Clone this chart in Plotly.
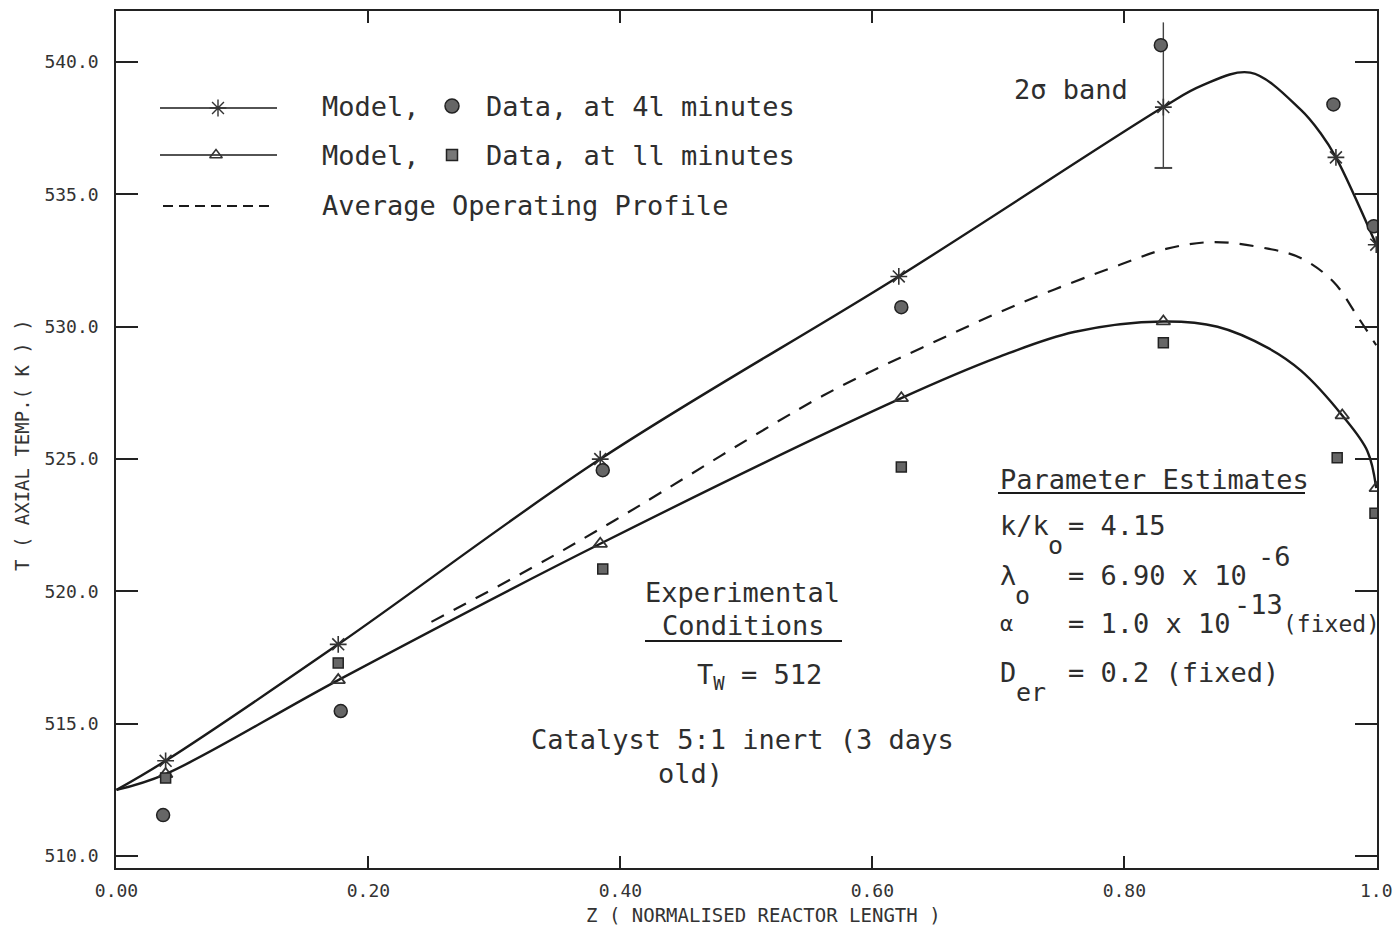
import plotly.graph_objects as go

# ---------------- data ----------------
# Model curve at 41 minutes (upper solid line)
model41_curve_z = [0.000, 0.039, 0.176, 0.384, 0.621, 0.831, 0.861, 0.900, 0.940, 0.956, 0.968, 1.000]
model41_curve_T = [512.5, 513.6, 518.0, 525.0, 531.9, 538.3, 539.1, 539.6, 538.2, 537.3, 536.4, 533.1]
model41_mark_z = [0.039, 0.176, 0.384, 0.621, 0.831, 0.968, 1.000]
model41_mark_T = [513.6, 518.0, 525.0, 531.9, 538.3, 536.4, 533.1]

# Model curve at 11 minutes (lower solid line)
model11_curve_z = [0.000, 0.039, 0.176, 0.384, 0.623, 0.700, 0.760, 0.831,
                   0.874, 0.914, 0.940, 0.973, 0.993, 1.000]
model11_curve_T = [512.5, 513.1, 516.65, 521.8, 527.3, 528.85, 529.8, 530.2,
                   530.0, 529.2, 528.35, 526.65, 525.3, 523.9]
model11_mark_z = [0.039, 0.176, 0.384, 0.623, 0.831, 0.973, 1.000]
model11_mark_T = [513.1, 516.65, 521.8, 527.3, 530.2, 526.65, 523.9]

# Average operating profile (dashed)
avg_z = [0.250, 0.330, 0.396, 0.561, 0.639, 0.718, 0.797, 0.834, 0.871, 0.914,
         0.940, 0.966, 0.985, 1.000]
avg_T = [518.85, 520.9, 522.7, 527.4, 529.2, 530.9, 532.35, 532.95, 533.2, 532.95,
         532.6, 531.7, 530.4, 529.3]

# Measured data
data41_z = [0.037, 0.178, 0.386, 0.623, 0.829, 0.966, 0.998]
data41_T = [511.55, 515.48, 524.58, 530.74, 540.64, 538.4, 533.8]
data11_z = [0.039, 0.176, 0.386, 0.623, 0.831, 0.969, 0.999]
data11_T = [512.95, 517.3, 520.85, 524.7, 529.4, 525.05, 522.95]

# 2-sigma band at z = 0.831
band_z = [0.831, 0.831]
band_T = [536.0, 541.5]
band_cap_z = [0.824, 0.838]
band_cap_T = [536.0, 536.0]

x_tickvals = [0.0, 0.2, 0.4, 0.6, 0.8, 1.0]
x_ticktext = ["0.00", "0.20", "0.40", "0.60", "0.80", "1.0"]
y_tickvals = [510, 515, 520, 525, 530, 535, 540]
y_ticktext = ["510.0", "515.0", "520.0", "525.0", "530.0", "535.0", "540.0"]

# ---------------- figure ----------------
W, H = 1393, 929
L, R, T, B = 116, 16, 11, 61
PW, PH = W - L - R, H - T - B

def px(xp):
    return (xp - L) / PW

def py(yp):
    return (T + PH - yp) / PH

INK = "#1a1a1a"
MK = "#333333"
MONO = "DejaVu Sans Mono"
SM = 1.0

fig = go.Figure()

fig.add_trace(go.Scatter(x=model41_curve_z, y=model41_curve_T, mode="lines",
                         line=dict(color=INK, width=2.4, shape="spline", smoothing=SM),
                         showlegend=False, hoverinfo="skip"))
fig.add_trace(go.Scatter(x=model11_curve_z, y=model11_curve_T, mode="lines",
                         line=dict(color=INK, width=2.4, shape="spline", smoothing=SM),
                         showlegend=False, hoverinfo="skip"))
fig.add_trace(go.Scatter(x=avg_z, y=avg_T, mode="lines",
                         line=dict(color=INK, width=2.2, dash="14px,11px", shape="spline", smoothing=SM),
                         showlegend=False, hoverinfo="skip"))

fig.add_trace(go.Scatter(x=band_z, y=band_T, mode="lines",
                         line=dict(color="#444", width=1.4), showlegend=False))
fig.add_trace(go.Scatter(x=band_cap_z, y=band_cap_T, mode="lines",
                         line=dict(color="#444", width=2), showlegend=False))

fig.add_trace(go.Scatter(x=model41_mark_z, y=model41_mark_T, mode="markers",
                         marker=dict(symbol="asterisk-open", size=14, color=MK, line=dict(color=MK, width=1.6)),
                         showlegend=False))
fig.add_trace(go.Scatter(x=model11_mark_z, y=model11_mark_T, mode="markers",
                         marker=dict(symbol="triangle-up-open", size=12, color=MK, line=dict(color=MK, width=1.8)),
                         showlegend=False))
fig.add_trace(go.Scatter(x=data41_z, y=data41_T, mode="markers",
                         marker=dict(symbol="circle", size=13, color="#666", line=dict(color="#222", width=1.5)),
                         showlegend=False))
fig.add_trace(go.Scatter(x=data11_z, y=data11_T, mode="markers",
                         marker=dict(symbol="square", size=10, color="#666", line=dict(color="#222", width=1.5)),
                         showlegend=False))

# legend keys on an overlay axis in paper fractions
fig.add_trace(go.Scatter(x=[px(160), px(277)], y=[py(108), py(108)], xaxis="x2", yaxis="y2", mode="lines",
                         line=dict(color=INK, width=1.6), showlegend=False))
fig.add_trace(go.Scatter(x=[px(218)], y=[py(108)], xaxis="x2", yaxis="y2", mode="markers",
                         marker=dict(symbol="asterisk-open", size=14, color=MK, line=dict(color=MK, width=1.4)),
                         showlegend=False))
fig.add_trace(go.Scatter(x=[px(160), px(277)], y=[py(155), py(155)], xaxis="x2", yaxis="y2", mode="lines",
                         line=dict(color=INK, width=1.6), showlegend=False))
fig.add_trace(go.Scatter(x=[px(216)], y=[py(155)], xaxis="x2", yaxis="y2", mode="markers",
                         marker=dict(symbol="triangle-up-open", size=11, color=MK, line=dict(color=MK, width=1.5)),
                         showlegend=False))
fig.add_trace(go.Scatter(x=[px(163), px(272)], y=[py(206), py(206)], xaxis="x2", yaxis="y2", mode="lines",
                         line=dict(color=INK, width=2, dash="10px,6px"), showlegend=False))
fig.add_trace(go.Scatter(x=[px(452)], y=[py(106)], xaxis="x2", yaxis="y2", mode="markers",
                         marker=dict(symbol="circle", size=14, color="#666", line=dict(color="#222", width=1.5)),
                         showlegend=False))
fig.add_trace(go.Scatter(x=[px(452)], y=[py(155)], xaxis="x2", yaxis="y2", mode="markers",
                         marker=dict(symbol="square", size=11, color="#777", line=dict(color="#222", width=1.5)),
                         showlegend=False))

ann = []
def txt(s, xp, yp, size=27, anchor="left", color="#2e2e2e"):
    ann.append(dict(text=s, x=px(xp), y=py(yp), xref="paper", yref="paper",
                    xanchor=anchor, yanchor="middle", showarrow=False,
                    font=dict(family=MONO, size=size, color=color)))

txt("Model,", 320, 106)
txt("Data, at 4l minutes", 484, 106)
txt("Model,", 320, 155)
txt("Data, at ll minutes", 484, 155)
txt("Average Operating Profile", 320, 205)
txt("2σ band", 1012, 89)

txt("Parameter Estimates", 998, 479)
txt("k/k", 998, 525)
txt("o", 1046, 545, size=25)
txt("= 4.15", 1066, 525)
txt("λ", 998, 575)
txt("o", 1013, 595, size=25)
txt("= 6.90 x 10", 1066, 575)
txt("-6", 1256, 556)
txt("α", 998, 623, size=22)
txt("= 1.0 x 10", 1066, 623)
txt("-13", 1232, 605)
txt("(fixed)", 1281, 624, size=23)
txt("D", 998, 672)
txt("er", 1014, 692, size=25)
txt("= 0.2 (fixed)", 1066, 672)

txt("Experimental", 742, 592, anchor="center")
txt("Conditions", 743, 625, anchor="center")
txt("T<sub>W</sub> = 512", 695, 676, anchor="left")
txt("Catalyst 5:1 inert (3 days", 742, 739, anchor="center")
txt("old)", 690, 773, anchor="center")

# axis titles
ann.append(dict(text="Z ( NORMALISED REACTOR LENGTH )", x=px(764), y=py(915), xref="paper", yref="paper",
                xanchor="center", yanchor="middle", showarrow=False,
                font=dict(family=MONO, size=19, color="#333")))
ann.append(dict(text="T ( AXIAL TEMP.( K ) )", x=px(22), y=py(445), xref="paper", yref="paper",
                xanchor="center", yanchor="middle", showarrow=False, textangle=-90,
                font=dict(family=MONO, size=19, color="#333")))

shapes = [
    dict(type="line", xref="paper", yref="paper", x0=px(998), x1=px(1305), y0=py(493), y1=py(493),
         line=dict(color=INK, width=2)),
    dict(type="line", xref="paper", yref="paper", x0=px(645), x1=px(842), y0=py(641), y1=py(641),
         line=dict(color=INK, width=2)),
]

axis_common = dict(showgrid=False, zeroline=False, showline=True, linecolor="#222", linewidth=1.6,
                   mirror="ticks", ticks="inside", tickcolor="#222", tickwidth=1.6, automargin=False,
                   tickfont=dict(family=MONO, size=18, color="#333"))

fig.update_layout(
    width=W, height=H, autosize=False,
    margin=dict(l=L, r=R, t=T, b=B, autoexpand=False),
    paper_bgcolor="white", plot_bgcolor="white",
    xaxis=dict(range=[-0.0004, 1.0006], tickvals=x_tickvals, ticktext=x_ticktext, ticklen=12,
               ticklabelstandoff=6, **axis_common),
    yaxis=dict(range=[509.55, 541.93], tickvals=y_tickvals, ticktext=y_ticktext, ticklen=22,
               ticklabelstandoff=12, **axis_common),
    xaxis2=dict(range=[0, 1], overlaying="x", visible=False, fixedrange=True),
    yaxis2=dict(range=[0, 1], overlaying="y", visible=False, fixedrange=True),
    annotations=ann, shapes=shapes, showlegend=False,
)

fig.write_html("out.html")
